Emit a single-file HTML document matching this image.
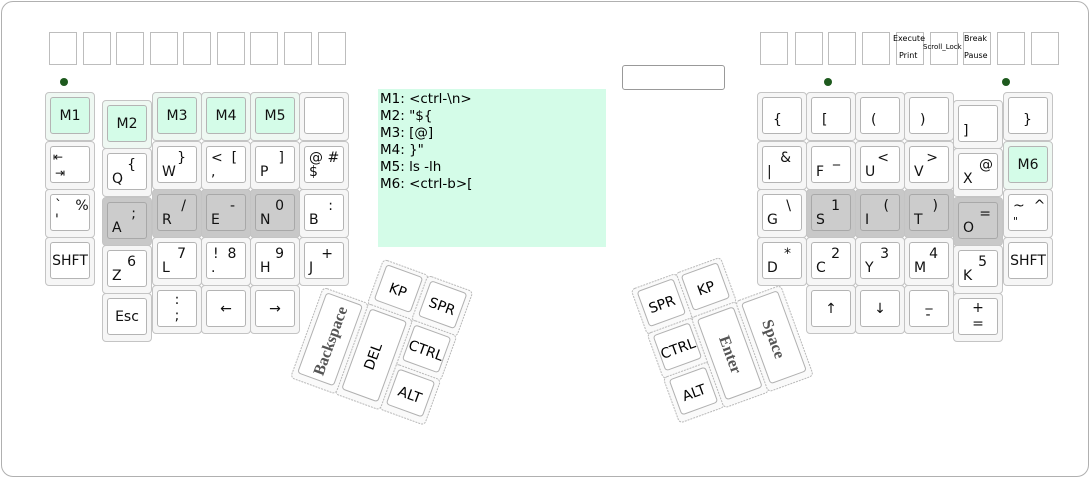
<!DOCTYPE html>
<html><head><meta charset="utf-8"><style>
body{margin:0;width:1092px;height:480px;background:#fff;position:relative;overflow:hidden;font-family:"DejaVu Sans","Liberation Sans",sans-serif;}
.frame{position:absolute;left:1px;top:1px;width:1088px;height:476px;border:1px solid #b0b0b0;border-radius:12px;box-sizing:border-box;}
.f{position:absolute;top:32px;width:28px;height:33px;border:1px solid #bdbdbd;box-sizing:border-box;background:#fff;}
.led{position:absolute;width:8px;height:8px;border-radius:50%;background:#1e5a1e;}
.k{position:absolute;width:50px;height:49px;box-sizing:border-box;border:1px solid #c4c4c4;border-radius:4px;background:#f6f6f6;}
.k .i{position:absolute;left:4px;top:4px;right:4px;bottom:6px;border:1px solid #b4b4b4;border-radius:3px;background:#fff;}
.g .i{background:#d4fce8;} .g{background:#eef8f2;}
.d{background:#c8c8c8;} .d .i{background:#cccccc;border-color:#a8a8a8;}
.t,.b,.c{position:absolute;font-size:14px;color:#111;white-space:pre;line-height:1;}
.t{right:10px;top:4px;} .b{left:4px;bottom:3px;}
.c{left:0;right:0;top:0;bottom:0;display:flex;align-items:center;justify-content:center;}
.box{position:absolute;left:378px;top:89px;width:228px;height:158px;background:#d4fce8;font-size:13.5px;line-height:17px;padding:2px 0 0 2px;box-sizing:border-box;}
</style></head><body>
<div class="frame"></div>
<div class="f" style="left:49px"></div><div class="f" style="left:83px"></div><div class="f" style="left:116px"></div><div class="f" style="left:150px"></div><div class="f" style="left:183px"></div><div class="f" style="left:217px"></div><div class="f" style="left:250px"></div><div class="f" style="left:284px"></div><div class="f" style="left:318px"></div>
<div class="f" style="left:760px"></div><div class="f" style="left:795px"></div><div class="f" style="left:828px"></div><div class="f" style="left:862px"></div>
<div class="f" style="left:896px;font-size:8px;"><span style="position:absolute;left:-4px;top:1px">Execute</span><span style="position:absolute;left:2px;top:18px">Print</span></div>
<div class="f" style="left:930px;font-size:7px;"><span style="position:absolute;left:-8px;top:10px">Scroll_Lock</span></div>
<div class="f" style="left:963px;font-size:8px;"><span style="position:absolute;left:0px;top:1px">Break</span><span style="position:absolute;left:0px;top:18px">Pause</span></div>
<div class="f" style="left:997px"></div><div class="f" style="left:1031px"></div>
<div class="led" style="left:60px;top:78px"></div><div class="led" style="left:824px;top:78px"></div><div class="led" style="left:1002px;top:78px"></div>
<div style="position:absolute;left:622px;top:65px;width:103px;height:25px;border:1px solid #999;border-radius:3px;box-sizing:border-box"></div>
<div class="box">M1: &lt;ctrl-\n&gt;<br>M2: "${<br>M3: [@]<br>M4: }"<br>M5: ls -lh<br>M6: &lt;ctrl-b&gt;[</div>

<div class="k g" style="left:45px;top:92px"><div class="i"><span class="c">M1</span></div></div>
<div class="k g" style="left:102px;top:100px"><div class="i"><span class="c">M2</span></div></div>
<div class="k g" style="left:152px;top:92px"><div class="i"><span class="c">M3</span></div></div>
<div class="k g" style="left:201px;top:92px"><div class="i"><span class="c">M4</span></div></div>
<div class="k g" style="left:250px;top:92px"><div class="i"><span class="c">M5</span></div></div>
<div class="k" style="left:299px;top:92px"><div class="i"></div></div>

<div class="k" style="left:45px;top:141px"><div class="i"><span class="t" style="left:2px;right:auto;font-size:12px">⇤</span><span class="b" style="font-size:12px">⇥</span></div></div>
<div class="k" style="left:102px;top:148px"><div class="i"><span class="t">{</span><span class="b">Q</span></div></div>
<div class="k" style="left:152px;top:141px"><div class="i"><span class="t">}</span><span class="b">W</span></div></div>
<div class="k" style="left:201px;top:141px"><div class="i"><span class="t" style="left:4px;right:auto">&lt;  [</span><span class="b">,</span></div></div>
<div class="k" style="left:250px;top:141px"><div class="i"><span class="t">]</span><span class="b">P</span></div></div>
<div class="k" style="left:299px;top:141px"><div class="i"><span class="t" style="left:4px;right:auto">@ #</span><span class="b">$</span></div></div>

<div class="k" style="left:45px;top:189px"><div class="i"><span class="t" style="left:4px;right:auto">`   %</span><span class="b">'</span></div></div>
<div class="k d" style="left:102px;top:197px"><div class="i"><span class="t">;</span><span class="b">A</span></div></div>
<div class="k d" style="left:152px;top:189px"><div class="i"><span class="t">/</span><span class="b">R</span></div></div>
<div class="k d" style="left:201px;top:189px"><div class="i"><span class="t">-</span><span class="b">E</span></div></div>
<div class="k d" style="left:250px;top:189px"><div class="i"><span class="t">0</span><span class="b">N</span></div></div>
<div class="k" style="left:299px;top:189px"><div class="i"><span class="t">:</span><span class="b">B</span></div></div>

<div class="k" style="left:45px;top:237px"><div class="i"><span class="c">SHFT</span></div></div>
<div class="k" style="left:102px;top:245px"><div class="i"><span class="t">6</span><span class="b">Z</span></div></div>
<div class="k" style="left:152px;top:237px"><div class="i"><span class="t">7</span><span class="b">L</span></div></div>
<div class="k" style="left:201px;top:237px"><div class="i"><span class="t" style="left:6px;right:auto">!  8</span><span class="b">.</span></div></div>
<div class="k" style="left:250px;top:237px"><div class="i"><span class="t">9</span><span class="b">H</span></div></div>
<div class="k" style="left:299px;top:237px"><div class="i"><span class="t">+</span><span class="b">J</span></div></div>

<div class="k" style="left:102px;top:293px"><div class="i"><span class="c">Esc</span></div></div>
<div class="k" style="left:152px;top:285px"><div class="i"><span class="c" style="line-height:1.1">:<br>;</span></div></div>
<div class="k" style="left:201px;top:285px"><div class="i"><span class="c">←</span></div></div>
<div class="k" style="left:250px;top:285px"><div class="i"><span class="c">→</span></div></div>

<div class="k" style="left:757px;top:92px"><div class="i"><span class="b" style="left:10px;bottom:6px">{</span></div></div>
<div class="k" style="left:806px;top:92px"><div class="i"><span class="b" style="left:10px;bottom:6px">[</span></div></div>
<div class="k" style="left:855px;top:92px"><div class="i"><span class="b" style="left:10px;bottom:6px">(</span></div></div>
<div class="k" style="left:904px;top:92px"><div class="i"><span class="b" style="left:10px;bottom:6px">)</span></div></div>
<div class="k" style="left:953px;top:100px"><div class="i"><span class="b" style="left:4px">]</span></div></div>
<div class="k" style="left:1003px;top:92px"><div class="i"><span class="b" style="left:14px;bottom:6px">}</span></div></div>

<div class="k" style="left:757px;top:141px"><div class="i"><span class="t">&amp;</span><span class="b">|</span></div></div>
<div class="k" style="left:806px;top:141px"><div class="i"><span class="t">_</span><span class="b">F</span></div></div>
<div class="k" style="left:855px;top:141px"><div class="i"><span class="t">&lt;</span><span class="b">U</span></div></div>
<div class="k" style="left:904px;top:141px"><div class="i"><span class="t">&gt;</span><span class="b">V</span></div></div>
<div class="k" style="left:953px;top:148px"><div class="i"><span class="t" style="right:4px">@</span><span class="b">X</span></div></div>
<div class="k g" style="left:1003px;top:141px"><div class="i"><span class="c">M6</span></div></div>

<div class="k" style="left:757px;top:189px"><div class="i"><span class="t">\</span><span class="b">G</span></div></div>
<div class="k d" style="left:806px;top:189px"><div class="i"><span class="t">1</span><span class="b">S</span></div></div>
<div class="k d" style="left:855px;top:189px"><div class="i"><span class="t">(</span><span class="b">I</span></div></div>
<div class="k d" style="left:904px;top:189px"><div class="i"><span class="t">)</span><span class="b">T</span></div></div>
<div class="k d" style="left:953px;top:197px"><div class="i"><span class="t" style="right:6px">=</span><span class="b">O</span></div></div>
<div class="k" style="left:1003px;top:189px"><div class="i"><span class="t" style="left:4px;right:auto">~  ^</span><span class="b" style="font-size:11px">"</span></div></div>

<div class="k" style="left:757px;top:237px"><div class="i"><span class="t">*</span><span class="b">D</span></div></div>
<div class="k" style="left:806px;top:237px"><div class="i"><span class="t">2</span><span class="b">C</span></div></div>
<div class="k" style="left:855px;top:237px"><div class="i"><span class="t">3</span><span class="b">Y</span></div></div>
<div class="k" style="left:904px;top:237px"><div class="i"><span class="t">4</span><span class="b">M</span></div></div>
<div class="k" style="left:953px;top:245px"><div class="i"><span class="t">5</span><span class="b">K</span></div></div>
<div class="k" style="left:1003px;top:237px"><div class="i"><span class="c">SHFT</span></div></div>

<div class="k" style="left:806px;top:285px"><div class="i"><span class="c">↑</span></div></div>
<div class="k" style="left:855px;top:285px"><div class="i"><span class="c">↓</span></div></div>
<div class="k" style="left:904px;top:285px"><div class="i"><span class="c" style="line-height:0.9">_<br>-</span></div></div>
<div class="k" style="left:953px;top:293px"><div class="i"><span class="c" style="line-height:1.1">+<br>=</span></div></div>

<svg width="1092" height="480" style="position:absolute;left:0;top:0" font-family="DejaVu Sans, Liberation Sans, sans-serif" font-size="14">
<defs>
<g id="k1"><rect x="-24" y="-24" width="48" height="48" rx="4" fill="#fafafa" stroke="#b8b8b8" stroke-dasharray="2 1"/><rect x="-19" y="-20" width="38" height="37" rx="3" fill="#fff" stroke="#b0b0b0"/></g>
<g id="k2"><rect x="-24" y="-48" width="48" height="96" rx="4" fill="#fafafa" stroke="#b8b8b8" stroke-dasharray="2 1"/><rect x="-19" y="-44" width="38" height="85" rx="3" fill="#fff" stroke="#b0b0b0"/></g>
</defs>
<g transform="translate(398,290) rotate(20)">
<use href="#k1"/><text x="0" y="5" text-anchor="middle">KP</text>
<use href="#k1" x="47"/><text x="47" y="5" text-anchor="middle">SPR</text>
<use href="#k1" x="47" y="47"/><text x="47" y="52" text-anchor="middle">CTRL</text>
<use href="#k1" x="47" y="94"/><text x="47" y="99" text-anchor="middle">ALT</text>
<use href="#k2" y="71"/><text transform="translate(4,71) rotate(-90)" text-anchor="middle">DEL</text>
<use href="#k2" x="-47" y="71"/><text transform="translate(-41,71) rotate(-90)" text-anchor="middle" font-family="Liberation Serif, serif" font-weight="bold" fill="#555" font-size="16">Backspace</text>
</g>
<g transform="translate(706,288) rotate(-20)">
<use href="#k1"/><text x="0" y="5" text-anchor="middle">KP</text>
<use href="#k1" x="-47"/><text x="-47" y="5" text-anchor="middle">SPR</text>
<use href="#k1" x="-47" y="47"/><text x="-47" y="52" text-anchor="middle">CTRL</text>
<use href="#k1" x="-47" y="94"/><text x="-47" y="99" text-anchor="middle">ALT</text>
<use href="#k2" y="71"/><text transform="translate(-5,71) rotate(90)" text-anchor="middle" font-family="Liberation Serif, serif" font-weight="bold" fill="#555" font-size="16">Enter</text>
<use href="#k2" x="47" y="71"/><text transform="translate(41,71) rotate(90)" text-anchor="middle" font-family="Liberation Serif, serif" font-weight="bold" fill="#555" font-size="16">Space</text>
</g>
</svg>
</body></html>
